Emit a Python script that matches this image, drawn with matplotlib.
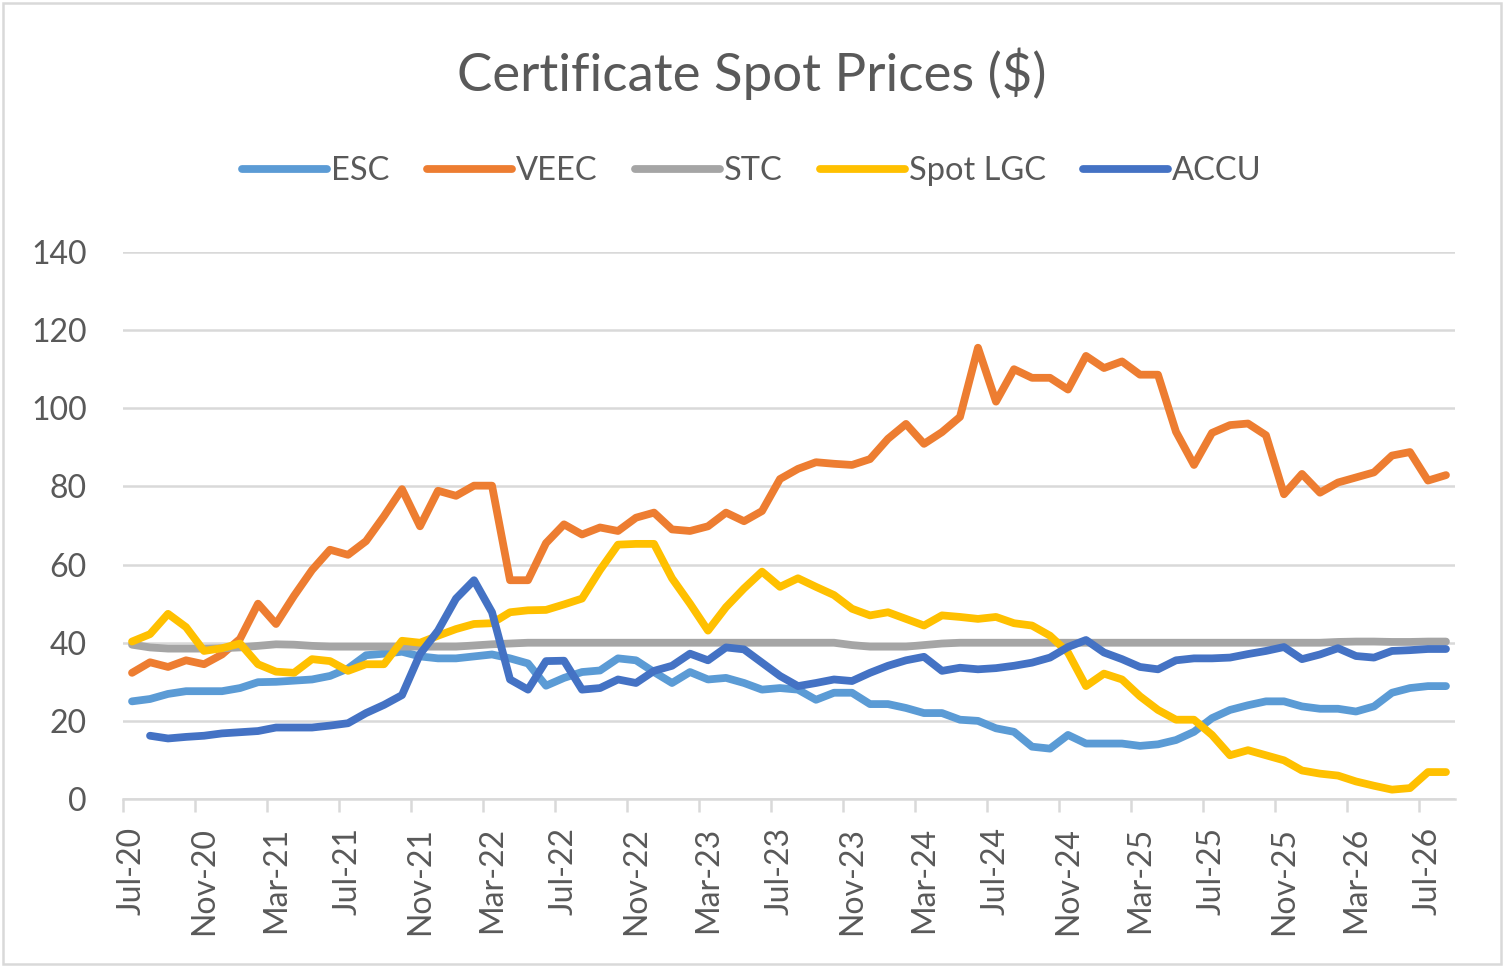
import numpy as np
import pandas as pd
import matplotlib
matplotlib.use('Agg')
from matplotlib import pyplot as plt
from matplotlib.patches import Rectangle

plt.rcParams['font.family'] = ['Lato', 'DejaVu Sans']

# monthly categories Jul-20 .. Aug-26
months = pd.date_range('2020-07-01', '2026-08-01', freq='MS')
month_labels = [m.strftime('%b-%y') for m in months]

esc = [25, 25.6, 26.9, 27.6, 27.6, 27.6, 28.4, 29.9, 30, 30.3, 30.6, 31.5, 33.4, 36.8, 37.2, 37.7,
       36.5, 36, 36, 36.5, 37, 36, 34.7, 29, 31,
       32.5, 32.9, 36, 35.5, 32.5, 29.7, 32.5, 30.6, 31, 29.7, 28, 28.4, 28, 25.4, 27.2, 27.2, 24.3,
       24.3, 23.3, 22, 22, 20.3, 20, 18.1,
       17.2, 13.4, 12.9, 16.4, 14.2, 14.2, 14.2, 13.6, 14, 15.1, 17.2, 20.7, 22.8, 24, 25, 25, 23.7,
       23.1, 23.1, 22.4, 23.7, 27.2, 28.4, 28.9, 28.9]
veec = [32.3, 35, 33.8, 35.5, 34.5, 37, 41, 50, 44.8, 52, 58.6, 63.8, 62.5, 66, 72.4, 79.3, 69.8,
        78.9, 77.6, 80.2, 80.2, 56, 56, 65.5, 70.3,
        67.7, 69.5, 68.6, 72, 73.3, 69, 68.6, 69.8, 73.3, 71.1, 73.7, 81.9, 84.5, 86.2, 85.8, 85.5,
        87, 92.2, 96, 90.9, 93.9, 97.8, 115.5, 101.7,
        110, 107.8, 107.8, 104.8, 113.4, 110.3, 112, 108.6, 108.6, 94, 85.5, 93.7, 95.7, 96.1, 93.1,
        78, 83.2, 78.4, 81, 82.3, 83.6, 87.9, 88.8, 81.5, 82.9]
stc = [39.5, 38.8, 38.5, 38.5, 38.5, 38.6, 38.8, 39.2, 39.6, 39.5, 39.2, 39, 39, 39, 39, 39, 39, 39,
       39, 39.3, 39.6, 39.8, 40, 40, 40,
       40, 40, 40, 40, 40, 40, 40, 40, 40, 40, 40, 40, 40, 40, 40, 39.4, 39, 39, 39, 39.4, 39.8, 40,
       40, 40,
       40, 40, 40, 40, 40, 40, 40, 40, 40, 40, 40, 40, 40, 40, 40, 40, 40, 40, 40.2, 40.3, 40.3,
       40.2, 40.2, 40.3, 40.3]
lgc = [40.3, 42.2, 47.4, 44, 37.9, 38.6, 39.8, 34.5, 32.6, 32.3, 35.8, 35.3, 32.8, 34.5, 34.5, 40.5,
       40, 41.8, 43.5, 44.8, 45, 47.8, 48.3, 48.4, 49.8,
       51.3, 58.6, 65.1, 65.3, 65.3, 56.5, 50, 43.1, 49.1, 53.9, 58.2, 54.3, 56.5, 54.3, 52.2, 48.7,
       47, 47.8, 46.1, 44.4, 47, 46.6, 46.1, 46.6,
       45, 44.4, 41.8, 37.5, 28.9, 32.1, 30.6, 26.3, 22.8, 20.3, 20.3, 16.4, 11.2, 12.5, 11.2, 9.9,
       7.3, 6.5, 6, 4.5, 3.4, 2.4, 2.8, 6.9, 6.9]
accu = [np.nan, 16.2, 15.5, 15.9, 16.2, 16.8, 17.1, 17.4, 18.3, 18.3, 18.3, 18.8, 19.4, 22, 24.1,
        26.6, 37.1, 43.1, 51.3, 56, 47.8, 30.6, 28, 35.3, 35.4,
        28, 28.4, 30.6, 29.7, 32.8, 34.1, 37.2, 35.5, 38.8, 38.3, 34.9, 31.5, 28.9, 29.7, 30.6, 30.2,
        32.3, 34.1, 35.5, 36.4, 32.8, 33.6, 33.2, 33.5,
        34.1, 34.9, 36.2, 38.9, 40.7, 37.5, 35.8, 33.8, 33.2, 35.5, 36, 36, 36.2, 37.1, 37.9, 38.9,
        35.8, 37, 38.6, 36.6, 36.2, 37.9, 38.1, 38.4, 38.4]

series = ['ESC', 'VEEC', 'STC', 'Spot LGC', 'ACCU']
values = [esc, veec, stc, lgc, accu]
colors = ['#5B9BD5', '#ED7D31', '#A5A5A5', '#FFC000', '#4472C4']
txt = '#595959'
grid_c = '#D9D9D9'

fig = plt.figure(figsize=(15.04, 9.67), dpi=100)
ax = fig.add_axes([0.0818, 0.1737, 0.8856, 0.5657])

x = np.arange(len(months))
for name, v, c in zip(series, values, colors):
    ax.plot(x, v, color=c, lw=5.6, label=name, solid_capstyle='round', solid_joinstyle='round')

ax.set_xlim(-0.5, len(months) - 0.5)
ax.set_ylim(0, 140)
ax.set_yticks(range(0, 141, 20))
ax.yaxis.grid(True, color=grid_c, lw=1.8)
ax.set_axisbelow(True)

ax.set_xticks(x[::4])
ax.set_xticklabels(month_labels[::4], rotation=90)
ax.set_xticks(np.arange(-0.5, len(months), 4), minor=True)
ax.tick_params(axis='x', which='major', length=0, pad=20, labelsize=23, labelcolor=txt)
ax.tick_params(axis='x', which='minor', length=9, width=1.8, color=grid_c)
ax.tick_params(axis='y', length=0, pad=26, labelsize=23, labelcolor=txt)

for s in ['top', 'right', 'left']:
    ax.spines[s].set_visible(False)
ax.spines['bottom'].set_color(grid_c)
ax.spines['bottom'].set_linewidth(1.8)

fig.text(0.5, 0.924, 'Certificate Spot Prices ($)', ha='center', va='center',
         fontsize=38, color=txt)
fig.legend(loc='center', bbox_to_anchor=(0.5, 0.823), ncol=5, frameon=False,
           fontsize=23.5, labelcolor=txt, handlelength=2.6, handletextpad=0.12,
           columnspacing=1.15)

fig.patches.append(Rectangle((0.002, 0.003), 0.996, 0.994, transform=fig.transFigure,
                             fill=False, edgecolor=grid_c, lw=1.8))

fig.savefig('out.png', dpi=100)
